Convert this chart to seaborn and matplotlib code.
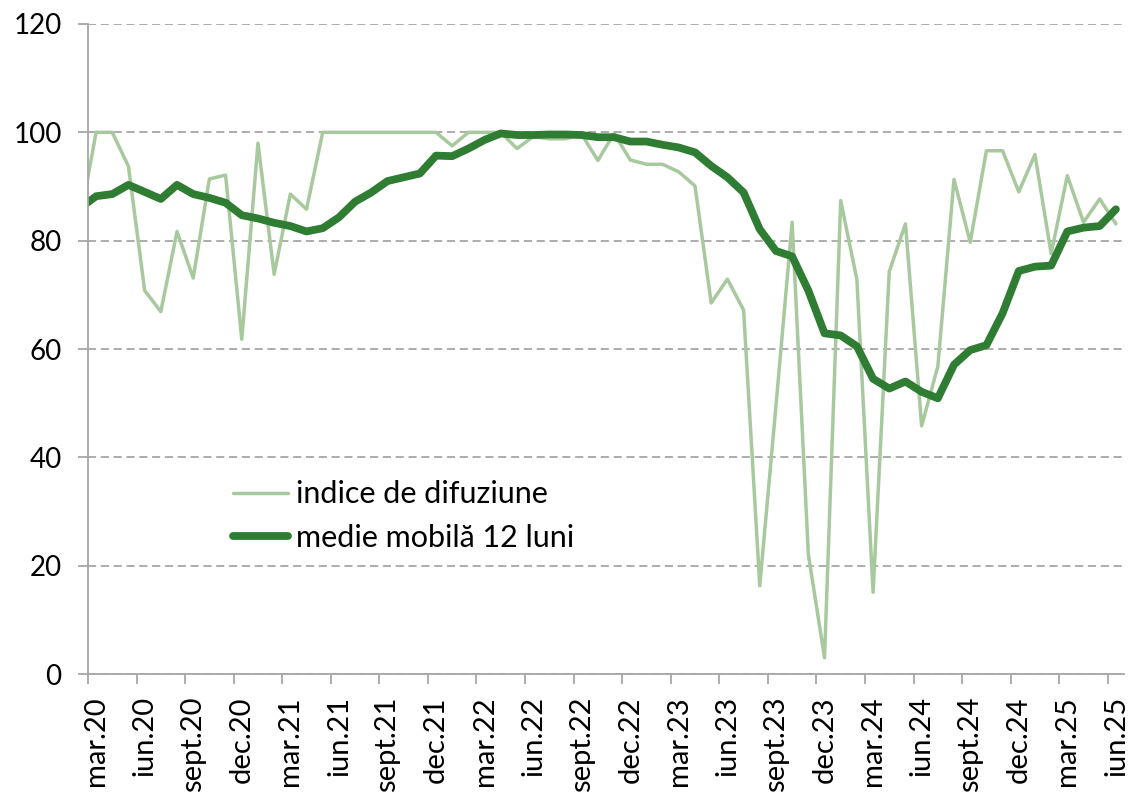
import numpy as np
import pandas as pd
import matplotlib
matplotlib.use("Agg")
import matplotlib.pyplot as plt
import seaborn as sns

# ── data ───────────────────────────────────────────────────────────────────────
# monthly, feb.20 .. iun.25 ; feb.20 only feeds the clipped first segment
months = pd.period_range("2020-02", "2025-06", freq="M")

indice_difuziune = [
    83.6,
    100.0, 100.0, 93.7, 70.8, 66.9, 81.7, 73.1, 91.4, 92.1, 61.8,          # mar-dec 20
    98.0, 73.8, 88.6, 85.8, 100.0, 100.0, 100.0, 100.0, 100.0, 100.0,     # 2021
    100.0, 100.0,
    97.5, 100.0, 100.0, 100.0, 97.0, 99.2, 98.8, 98.8, 99.6, 94.8,        # 2022
    99.8, 94.9,
    94.1, 94.1, 92.7, 90.1, 68.5, 72.9, 67.2, 16.3, 49.5, 83.4,           # 2023
    22.1, 3.0,
    87.4, 72.8, 15.1, 74.3, 83.1, 45.8, 56.8, 91.3, 79.7, 96.6,           # 2024
    96.6, 89.0,
    95.9, 77.6, 92.0, 83.4, 87.7, 83.1,                                   # 2025
]

medie_mobila = [
    86.0,
    88.2, 88.6, 90.3, 89.0, 87.7, 90.3, 88.6, 87.9, 87.0, 84.7,
    84.1, 83.3, 82.7, 81.7, 82.3, 84.3, 87.2, 88.9, 91.0, 91.7,
    92.4, 95.7,
    95.6, 97.0, 98.6, 99.8, 99.5, 99.5, 99.6, 99.6, 99.5, 99.1,
    99.1, 98.3,
    98.3, 97.7, 97.2, 96.3, 93.8, 91.7, 88.9, 82.1, 78.1, 77.1,
    70.8, 62.9,
    62.5, 60.5, 54.5, 52.7, 54.0, 52.1, 50.9, 57.1, 59.8, 60.7,
    66.6, 74.4,
    75.2, 75.4, 81.7, 82.4, 82.7, 85.8,
]

tick_labels = [
    "mar.20", "iun.20", "sept.20", "dec.20",
    "mar.21", "iun.21", "sept.21", "dec.21",
    "mar.22", "iun.22", "sept.22", "dec.22",
    "mar.23", "iun.23", "sept.23", "dec.23",
    "mar.24", "iun.24", "sept.24", "dec.24",
    "mar.25", "iun.25",
]

legend_labels = ["indice de difuziune", "medie mobilă 12 luni"]

# ── frame ──────────────────────────────────────────────────────────────────────
start = pd.Period("2020-03", freq="M")
df = pd.DataFrame({
    "pos": [(m - start).n for m in months],
    "indice": indice_difuziune,
    "medie": medie_mobila,
})
n_cat = int(df["pos"].max()) + 1

LIGHT = "#A7C99D"
DARK = "#2E7D32"
GRID = "#A6A6A6"

sns.set_theme(style="white")
plt.rcParams["font.family"] = ["Lato", "DejaVu Sans"]
plt.rcParams["font.size"] = 20
plt.rcParams["text.color"] = "black"
plt.rcParams["xtick.labelcolor"] = "black"
plt.rcParams["ytick.labelcolor"] = "black"

fig, ax = plt.subplots(figsize=(11.31, 7.97), dpi=100)
fig.subplots_adjust(left=0.0778, right=0.9938, top=0.9699, bottom=0.1543)

sns.lineplot(data=df, x="pos", y="indice", ax=ax, color=LIGHT,
             linewidth=2.5, label=legend_labels[0])
sns.lineplot(data=df, x="pos", y="medie", ax=ax, color=DARK,
             linewidth=5.6, label=legend_labels[1],
             solid_capstyle="round", solid_joinstyle="round")

# ── axes ───────────────────────────────────────────────────────────────────────
ax.set_xlim(-0.5, n_cat - 0.5)
ax.set_ylim(0, 120)
ax.set_yticks(np.arange(0, 121, 20))
ax.yaxis.grid(True, color=GRID, linestyle=(0, (4.5, 2.6)), linewidth=1.3)
ax.set_axisbelow(True)

# labels at the category centres, tick marks at the category boundaries
label_pos = np.arange(0, n_cat, 3)
ax.set_xticks(label_pos)
ax.set_xticklabels(tick_labels, rotation=90)
ax.set_xticks(label_pos - 0.5, minor=True)
ax.tick_params(axis="x", which="major", length=0, pad=16, labelsize=21,
               labelcolor="black")
ax.tick_params(axis="x", which="minor", length=7, width=1.3, color=GRID,
               direction="out", bottom=True)
ax.tick_params(axis="y", which="major", length=7, width=1.3, color=GRID,
               direction="out", left=True, pad=12, labelsize=20,
               labelcolor="black")

for side in ["top", "right"]:
    ax.spines[side].set_visible(False)
for side in ["left", "bottom"]:
    ax.spines[side].set_color(GRID)
    ax.spines[side].set_linewidth(1.3)

ax.set_xlabel("")
ax.set_ylabel("")

leg = ax.legend(loc="upper left", bbox_to_anchor=(0.14, 0.298), frameon=False,
                handlelength=1.8, handletextpad=0.27, labelspacing=0.5,
                borderpad=0, borderaxespad=0, fontsize=22)
for t in leg.get_texts():
    t.set_color("black")

plt.savefig("out.png", dpi=100)
